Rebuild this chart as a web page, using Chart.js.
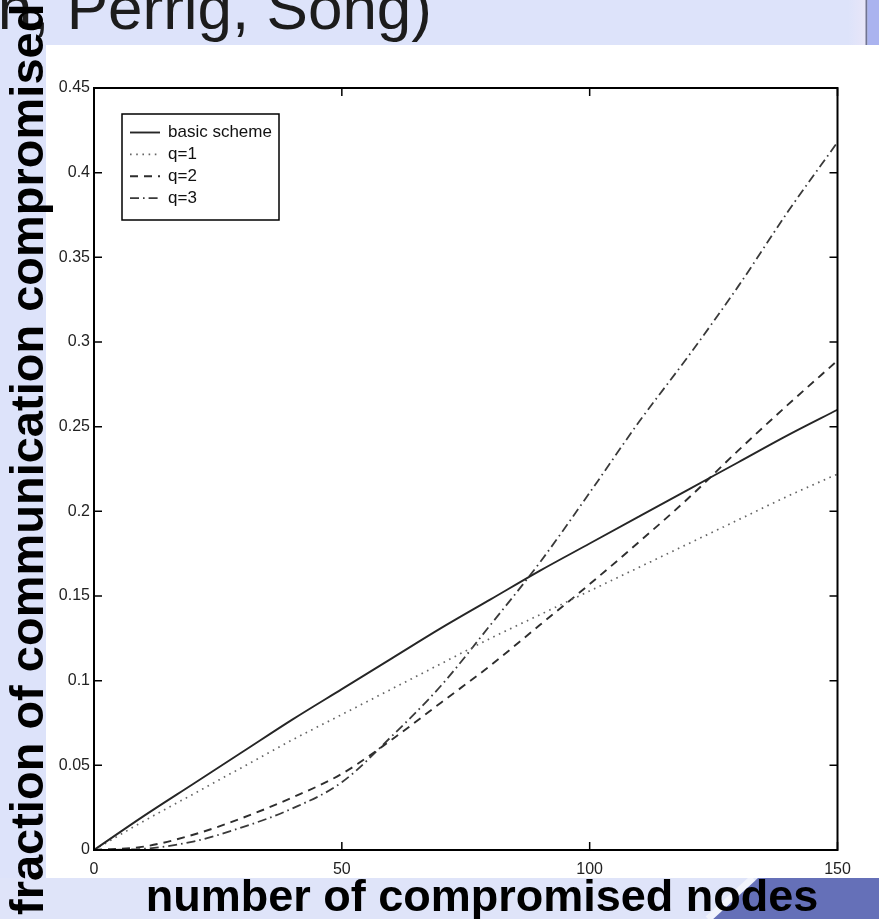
<!DOCTYPE html>
<html>
<head>
<meta charset="utf-8">
<style>
  html, body { margin: 0; padding: 0; background: #ffffff; }
  #c { display: block; }
</style>
<script src="https://cdn.jsdelivr.net/npm/chart.js@4.4.1/dist/chart.umd.min.js"></script>
</head>
<body>
<canvas id="c" width="879" height="919"></canvas>
<script>
// ---------- data ----------
const nodes = [0, 10, 20, 30, 40, 50, 60, 70, 80, 90, 100, 110, 120, 130, 140, 150];
const basicScheme = [0, 0.020, 0.039, 0.058, 0.077, 0.095, 0.113, 0.131, 0.148, 0.165, 0.181, 0.197, 0.213, 0.229, 0.245, 0.260];
const q1 = [0, 0.017, 0.033, 0.049, 0.065, 0.080, 0.095, 0.110, 0.125, 0.139, 0.153, 0.167, 0.181, 0.195, 0.209, 0.222];
const q2 = [0, 0.002, 0.009, 0.019, 0.031, 0.045, 0.065, 0.087, 0.109, 0.133, 0.157, 0.182, 0.208, 0.236, 0.263, 0.289];
const q3 = [0, 0.0007, 0.005, 0.0135, 0.0245, 0.040, 0.067, 0.097, 0.133, 0.170, 0.211, 0.253, 0.292, 0.333, 0.377, 0.418];
const seriesLabels = ['basic scheme', 'q=1', 'q=2', 'q=3'];
const xTickValues = [0, 50, 100, 150];
const xTickLabels = ['0', '50', '100', '150'];
const yTickValues = [0, 0.05, 0.1, 0.15, 0.2, 0.25, 0.3, 0.35, 0.4, 0.45];
const yTickLabels = ['0', '0.05', '0.1', '0.15', '0.2', '0.25', '0.3', '0.35', '0.4', '0.45'];
const slideTitle = '(Chan, Perrig, Song)';
const xAxisTitle = 'number of compromised nodes';
const yAxisTitle = 'fraction of communication compromised';

// ---------- styles ----------
const styles = [
  { color: '#262626', width: 1.9, dash: [] },
  { color: '#666666', width: 1.7, dash: [1.6, 4.6] },
  { color: '#2e2e2e', width: 1.9, dash: [8, 6] },
  { color: '#3a3a3a', width: 1.8, dash: [9, 4, 1.6, 4] }
];
const seriesValues = [basicScheme, q1, q2, q3];

const datasets = seriesValues.map((vals, i) => ({
  label: seriesLabels[i],
  data: nodes.map((x, j) => ({ x: x, y: vals[j] })),
  borderColor: styles[i].color,
  borderWidth: styles[i].width,
  borderDash: styles[i].dash,
  pointRadius: 0,
  fill: false,
  cubicInterpolationMode: 'monotone'
}));

const tickFont = { family: '"Liberation Sans", Arial, sans-serif', size: 16 };

function labelFor(values, labels, v) {
  for (let i = 0; i < values.length; i++) {
    if (Math.abs(values[i] - v) < 1e-9) return labels[i];
  }
  return '';
}

const decor = {
  id: 'slideDecor',
  beforeDraw(chart) {
    const ctx = chart.ctx;
    const W = chart.width, H = chart.height;
    ctx.save();
    ctx.fillStyle = '#ffffff';
    ctx.fillRect(0, 0, W, H);
    const lav = '#dde3fa';
    ctx.fillStyle = lav;
    ctx.fillRect(0, 0, W, 45);
    const g = ctx.createLinearGradient(848, 0, 866, 0);
    g.addColorStop(0, '#dde3fa');
    g.addColorStop(1, '#e8e6f8');
    ctx.fillStyle = g;
    ctx.fillRect(848, 0, 18, 45);
    ctx.fillStyle = '#707492';
    ctx.fillRect(865.5, 0, 2, 45);
    ctx.fillStyle = '#aab3ef';
    ctx.fillRect(867.5, 0, W - 867.5, 45);
    ctx.fillStyle = lav;
    ctx.fillRect(0, 45, 46, H - 45);
    ctx.fillStyle = '#dfe4f9';
    ctx.fillRect(0, 878, W, H - 878);
    ctx.fillStyle = '#6570b8';
    ctx.beginPath();
    ctx.moveTo(758, 878); ctx.lineTo(W, 878); ctx.lineTo(W, H); ctx.lineTo(713, H);
    ctx.closePath(); ctx.fill();
    ctx.strokeStyle = 'rgba(255,255,255,0.55)';
    ctx.lineWidth = 7;
    ctx.beginPath(); ctx.moveTo(753, 878); ctx.lineTo(708, H); ctx.stroke();
    ctx.restore();
  },
  afterDraw(chart) {
    const ctx = chart.ctx;
    const a = chart.chartArea;
    const xs = chart.scales.x, ys = chart.scales.y;
    ctx.save();
    ctx.strokeStyle = '#000';
    ctx.lineWidth = 2;
    ctx.strokeRect(a.left, a.top, a.right - a.left, a.bottom - a.top);
    ctx.lineWidth = 1.5;
    ctx.beginPath();
    yTickValues.forEach(v => {
      const y = ys.getPixelForValue(v);
      ctx.moveTo(a.left, y); ctx.lineTo(a.left + 8, y);
      ctx.moveTo(a.right, y); ctx.lineTo(a.right - 8, y);
    });
    xTickValues.forEach(v => {
      const x = xs.getPixelForValue(v);
      ctx.moveTo(x, a.bottom); ctx.lineTo(x, a.bottom - 8);
      ctx.moveTo(x, a.top); ctx.lineTo(x, a.top + 8);
    });
    ctx.stroke();

    // legend inside plot
    const lx = a.left + 28, ly = a.top + 26, lw = 157, lh = 106;
    ctx.fillStyle = '#fff';
    ctx.fillRect(lx, ly, lw, lh);
    ctx.strokeStyle = '#000';
    ctx.lineWidth = 1.5;
    ctx.strokeRect(lx, ly, lw, lh);
    ctx.font = '17px "Liberation Sans", Arial, sans-serif';
    ctx.textBaseline = 'middle';
    ctx.textAlign = 'left';
    chart.data.datasets.forEach((ds, i) => {
      const ry = ly + 18.5 + i * 21.9;
      ctx.strokeStyle = ds.borderColor;
      ctx.lineWidth = ds.borderWidth;
      ctx.setLineDash(ds.borderDash);
      ctx.beginPath(); ctx.moveTo(lx + 8, ry); ctx.lineTo(lx + 38, ry); ctx.stroke();
      ctx.setLineDash([]);
      ctx.fillStyle = '#111';
      ctx.fillText(ds.label, lx + 46, ry);
    });

    // slide title (partially cut off at left/top)
    ctx.fillStyle = '#1c1c1c';
    ctx.font = '62px "Liberation Sans", Arial, sans-serif';
    ctx.textAlign = 'right';
    ctx.textBaseline = 'alphabetic';
    ctx.fillText(slideTitle, 432, 29);

    // x axis title
    ctx.fillStyle = '#000';
    ctx.font = 'bold 45px "Liberation Sans", Arial, sans-serif';
    ctx.textAlign = 'center';
    ctx.fillText(xAxisTitle, 482, 911);

    // y axis title
    ctx.translate(43, 915);
    ctx.rotate(-Math.PI / 2);
    ctx.font = 'bold 47px "Liberation Sans", Arial, sans-serif';
    ctx.textAlign = 'left';
    ctx.fillText(yAxisTitle, 0, 0);
    ctx.restore();
  }
};

new Chart(document.getElementById('c').getContext('2d'), {
  type: 'line',
  data: { datasets: datasets },
  options: {
    responsive: false,
    animation: false,
    events: [],
    layout: { padding: { left: 0, top: 88, right: 41.5, bottom: 0 } },
    scales: {
      x: {
        type: 'linear',
        min: 0, max: 150,
        afterBuildTicks: s => { s.ticks = xTickValues.map(v => ({ value: v })); },
        afterFit: s => { s.height = 69; },
        ticks: {
          callback: v => labelFor(xTickValues, xTickLabels, v),
          font: tickFont, color: '#222', padding: 10, maxRotation: 0, autoSkip: false
        },
        grid: { display: false, drawTicks: false },
        border: { display: false }
      },
      y: {
        type: 'linear',
        min: 0, max: 0.45,
        afterBuildTicks: s => { s.ticks = yTickValues.map(v => ({ value: v })); },
        afterFit: s => { s.width = 94; },
        ticks: {
          callback: v => labelFor(yTickValues, yTickLabels, v),
          font: tickFont, color: '#222', padding: 4, autoSkip: false
        },
        grid: { display: false, drawTicks: false },
        border: { display: false }
      }
    },
    plugins: { legend: { display: false }, tooltip: { enabled: false }, title: { display: false } }
  },
  plugins: [decor]
});
</script>
</body>
</html>
